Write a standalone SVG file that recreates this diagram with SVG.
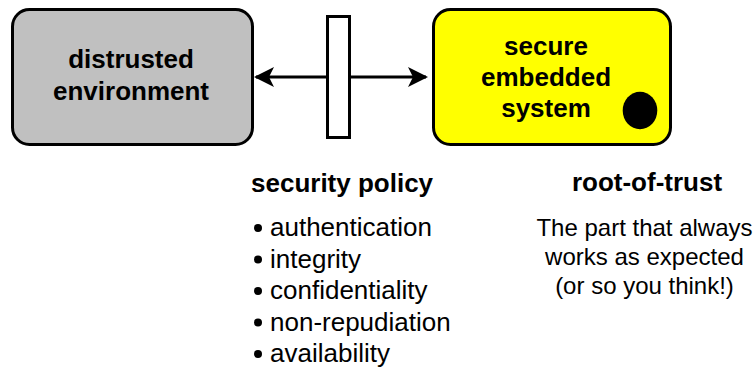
<svg xmlns="http://www.w3.org/2000/svg" width="755" height="371" viewBox="0 0 755 371">
  <defs>
    <style>
      .box { stroke: #000; stroke-width: 3; }
      .label { font-family: "Liberation Sans", Arial, sans-serif; font-weight: bold; font-size: 26px; fill: #000; text-anchor: middle; }
      .head { font-family: "Liberation Sans", Arial, sans-serif; font-weight: bold; font-size: 26px; fill: #000; }
      .item { font-family: "Liberation Sans", Arial, sans-serif; font-size: 26px; fill: #000; }
      .note { font-family: "Liberation Sans", Arial, sans-serif; font-size: 24px; fill: #000; text-anchor: middle; }
      .link { stroke: #000; stroke-width: 3; fill: none; }
    </style>
    <marker id="arrow" viewBox="0 0 20 20" refX="18" refY="10" markerWidth="20" markerHeight="20" markerUnits="userSpaceOnUse" orient="auto-start-reverse">
      <path d="M0,0 L20,10 L0,20 L5,10 Z" fill="#000"/>
    </marker>
  </defs>

  <g id="connectors">
    <line class="link" x1="256" y1="77" x2="426" y2="77" marker-start="url(#arrow)" marker-end="url(#arrow)"/>
  </g>

  <g id="distrusted-environment">
    <rect class="box" x="12.5" y="9.5" width="240" height="135" rx="17" fill="#c0c0c0"/>
    <text class="label" x="131" y="68">distrusted</text>
    <text class="label" x="131" y="100">environment</text>
  </g>

  <g id="security-policy-gate">
    <rect class="box" x="327.5" y="16.5" width="22" height="121" fill="#fff"/>
  </g>

  <g id="secure-embedded-system">
    <rect class="box" x="433.5" y="9.5" width="237" height="135" rx="17" fill="#ffff00"/>
    <text class="label" x="546" y="55">secure</text>
    <text class="label" x="546" y="86">embedded</text>
    <text class="label" x="546" y="117">system</text>
    <ellipse id="root-of-trust-dot" cx="640" cy="110.5" rx="17.3" ry="18.8" fill="#000"/>
  </g>

  <g id="security-policy">
    <text class="head" x="251" y="192">security policy</text>
    <g fill="#000">
      <circle cx="258" cy="228" r="4"/>
      <circle cx="258" cy="259.5" r="4"/>
      <circle cx="258" cy="291" r="4"/>
      <circle cx="258" cy="322.5" r="4"/>
      <circle cx="258" cy="354" r="4"/>
    </g>
    <text class="item" x="270" y="236">authentication</text>
    <text class="item" x="270" y="267.5">integrity</text>
    <text class="item" x="270" y="299">confidentiality</text>
    <text class="item" x="270" y="330.5">non-repudiation</text>
    <text class="item" x="270" y="362">availability</text>
  </g>

  <g id="root-of-trust">
    <text class="label" x="647" y="191">root-of-trust</text>
    <text class="note" x="644.5" y="236">The part that always</text>
    <text class="note" x="644.5" y="265">works as expected</text>
    <text class="note" x="644.5" y="294">(or so you think!)</text>
  </g>
</svg>
